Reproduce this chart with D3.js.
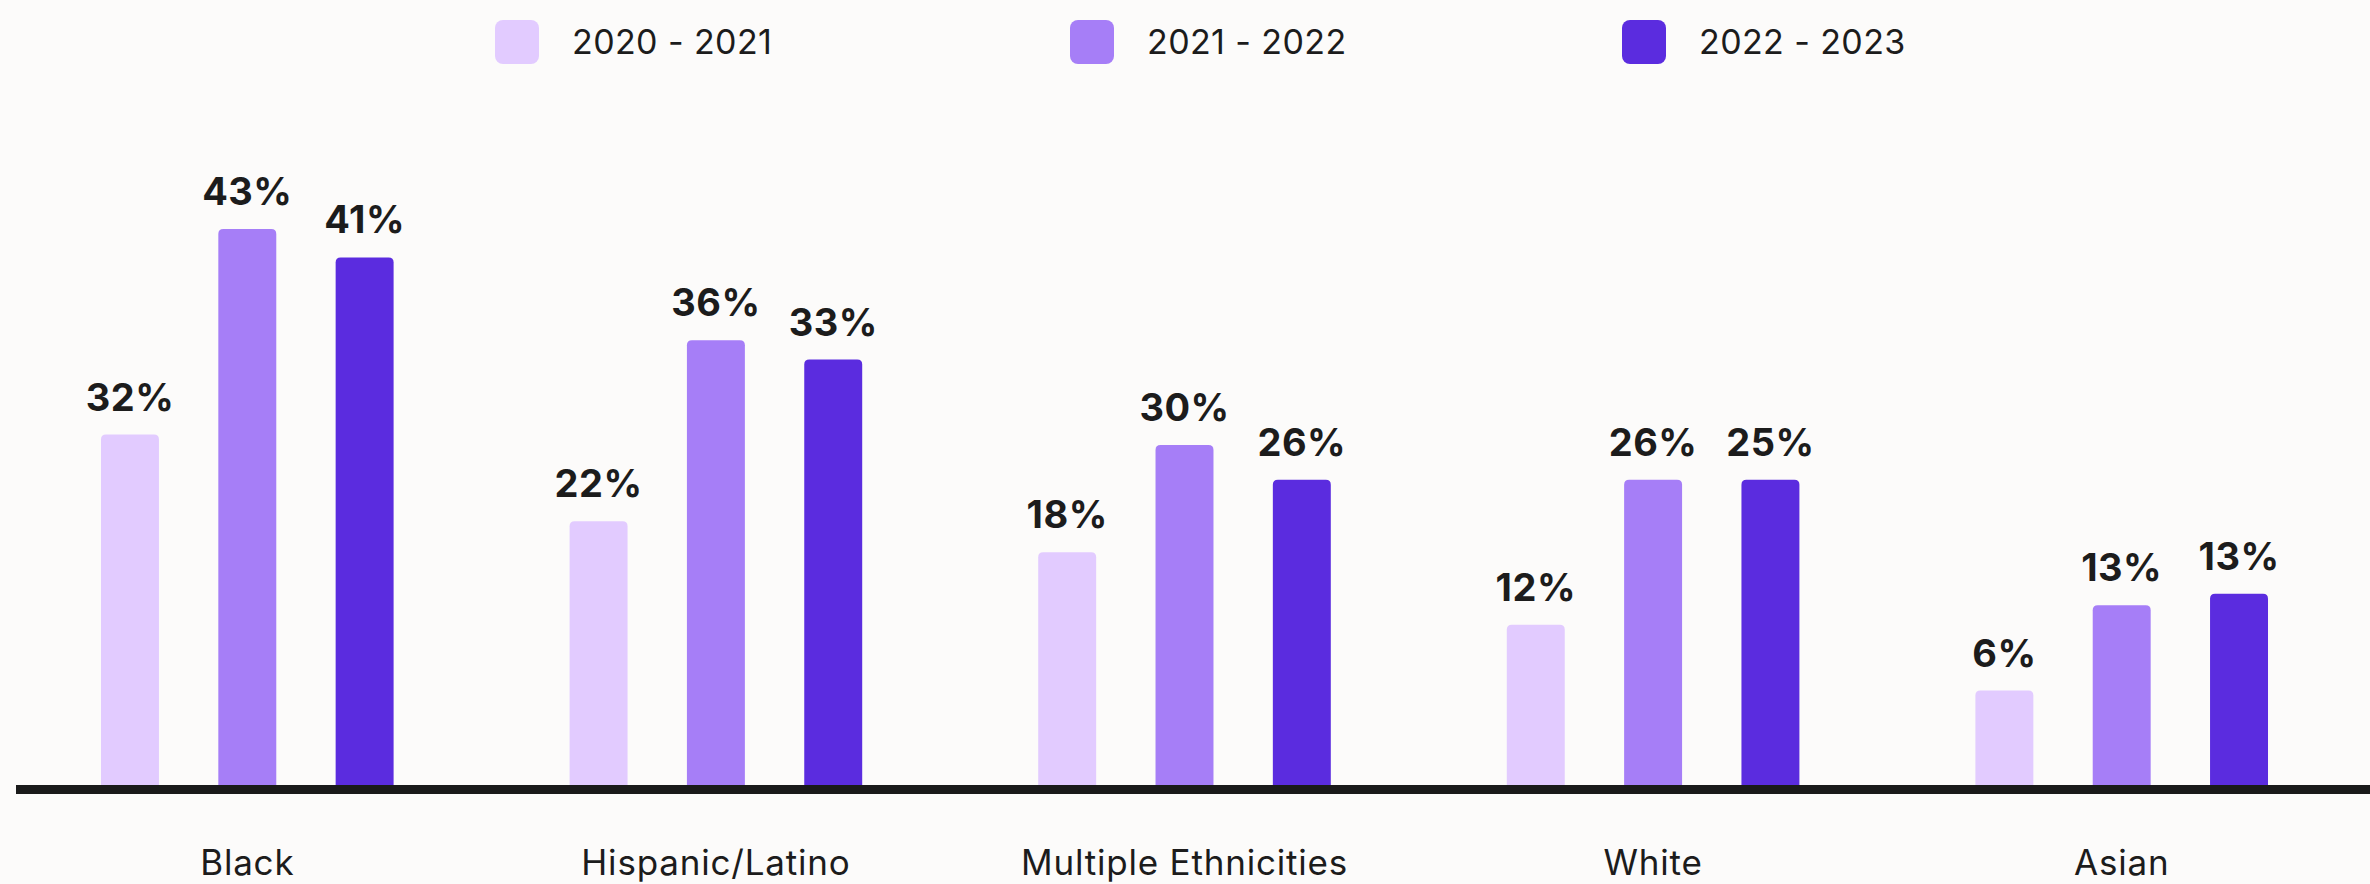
<!DOCTYPE html>
<html lang="en">
	<head>
		<meta charset="utf-8">
		<title>Bars by ethnicity</title>
		<script src="https://d3js.org/d3.v7.min.js"></script>
		<style type="text/css">
			body, html {
				margin: 0;
				background: #fcfbfa;
			}
			svg {
				display: block;
				font-family: Inter, "Noto Sans", sans-serif;
			}
		</style>
	</head>
	<body>
		<svg></svg>
		<script type="text/javascript">
		// categories and series
		var groups = ["Black", "Hispanic/Latino", "Multiple Ethnicities", "White", "Asian"];
		var series = ["2020 - 2021", "2021 - 2022", "2022 - 2023"];
		// bar heights (percent)
		var year2021 = [27.1, 20.4, 18.0, 12.4, 7.3];
		var year2022 = [43.0, 34.4, 26.3, 23.6, 13.9];
		var year2023 = [40.8, 32.9, 23.6, 23.6, 14.8];
		// printed labels
		var label2021 = ["32%", "22%", "18%", "12%", "6%"];
		var label2022 = ["43%", "36%", "30%", "26%", "13%"];
		var label2023 = ["41%", "33%", "26%", "25%", "13%"];

		var colors = ["#e2cbff", "#a67ef7", "#5b2cdf"];

		var w = 2370, h = 884;
		var baseY = 789.5;

		var svg = d3.select("svg")
			.attr("width", w)
			.attr("height", h);

		var values = [year2021, year2022, year2023];
		var labels = [label2021, label2022, label2023];

		// flatten into rows for the bars
		var rows = [];
		groups.forEach(function(g, i) {
			series.forEach(function(s, j) {
				rows.push({group: g, series: s, value: values[j][i], label: labels[j][i]});
			});
		});

		var x0 = d3.scaleBand()
			.domain(groups)
			.range([13, 2356]);

		var x1 = d3.scaleBand()
			.domain(series)
			.range([0, x0.bandwidth()])
			.paddingInner(0.506)
			.paddingOuter(0.75);

		var y = d3.scaleLinear()
			.domain([0, 43])
			.range([785, 229]);

		var color = d3.scaleOrdinal().domain(series).range(colors);

		// bar with rounded top corners
		function barPath(x, top, bw, bottom) {
			var r = 5;
			return "M" + x + "," + bottom +
				"V" + (top + r) +
				"Q" + x + "," + top + " " + (x + r) + "," + top +
				"H" + (x + bw - r) +
				"Q" + (x + bw) + "," + top + " " + (x + bw) + "," + (top + r) +
				"V" + bottom + "Z";
		}

		var bars = svg.append("g");
		bars.selectAll("path")
			.data(rows)
			.enter()
			.append("path")
			.attr("d", function(d) {
				return barPath(x0(d.group) + x1(d.series), y(d.value), x1.bandwidth(), baseY);
			})
			.style("fill", function(d) { return color(d.series); });

		bars.selectAll("text")
			.data(rows)
			.enter()
			.append("text")
			.attr("x", function(d) { return x0(d.group) + x1(d.series) + x1.bandwidth() / 2; })
			.attr("y", function(d) { return y(d.value) - 24; })
			.attr("text-anchor", "middle")
			.style("font-size", "38px")
			.style("font-weight", 700)
			.style("letter-spacing", "0.5px")
			.style("fill", "#1c1c1c")
			.text(function(d) { return d.label; });

		// baseline
		svg.append("line")
			.attr("x1", 16)
			.attr("x2", w)
			.attr("y1", baseY)
			.attr("y2", baseY)
			.style("stroke", "#1a1a1a")
			.style("stroke-width", 9);

		// category labels
		var axis = svg.append("g")
			.attr("transform", "translate(0," + baseY + ")")
			.call(d3.axisBottom(x0).tickSize(0));
		axis.select(".domain").remove();
		axis.selectAll("text")
			.attr("y", 85.5)
			.attr("dy", null)
			.style("font-family", "Inter, 'Noto Sans', sans-serif")
			.style("font-size", "35px")
			.style("letter-spacing", "0.8px")
			.style("fill", "#1c1c1c");

		// legend
		var legendX = [495, 1070, 1622];
		var legend = svg.append("g")
			.selectAll("g")
			.data(series)
			.enter()
			.append("g")
			.attr("transform", function(d, i) { return "translate(" + legendX[i] + ",20)"; });
		legend.append("rect")
			.attr("width", 44)
			.attr("height", 44)
			.attr("rx", 8)
			.style("fill", function(d) { return color(d); });
		legend.append("text")
			.attr("x", 77)
			.attr("y", 34)
			.style("font-size", "34px")
			.style("letter-spacing", "0.4px")
			.style("fill", "#1c1c1c")
			.text(function(d) { return d; });
		</script>
	</body>
</html>
